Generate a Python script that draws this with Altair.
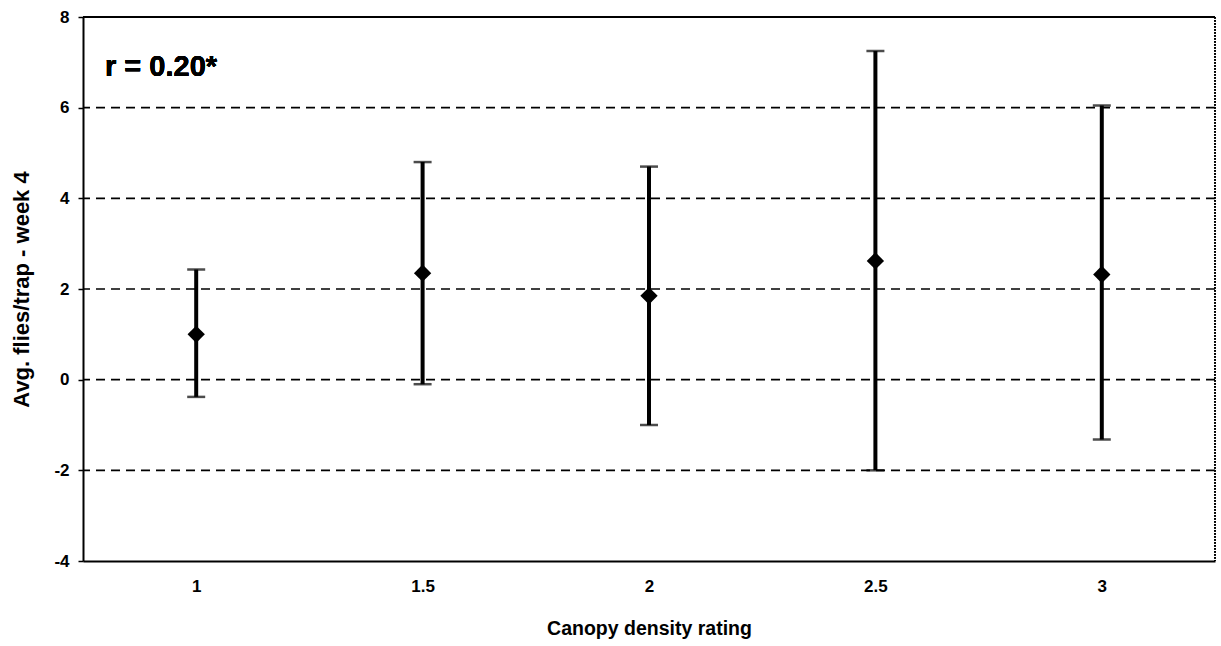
import altair as alt
import pandas as pd

# Canopy density rating vs. average flies per trap (week 4), mean with error bars
ratings = ["1", "1.5", "2", "2.5", "3"]
means = [1.0, 2.35, 1.85, 2.62, 2.32]
upper = [2.43, 4.8, 4.7, 7.25, 6.05]
lower = [-0.38, -0.1, -1.0, -2.0, -1.32]

grid_values = [-2, 0, 2, 4, 6]

df = pd.DataFrame({"rating": ratings, "mean": means, "upper": upper, "lower": lower})
grid_df = pd.DataFrame({"y": grid_values})

W, H = 1132, 544
FONT = "Liberation Sans"

x_enc = alt.X(
    "rating:O",
    sort=ratings,
    scale=alt.Scale(type="point", padding=0.5),
    axis=alt.Axis(
        title="Canopy density rating",
        titleFontSize=19.5,
        labelAngle=0,
        ticks=False,
        labelPadding=17,
        titlePadding=25,
        domainColor="black",
        domainWidth=2,
        grid=False,
    ),
)
y_scale = alt.Scale(domain=[-4, 8], nice=False, zero=False)
y_axis = alt.Axis(
    title="Avg. flies/trap - week 4",
    titleFontSize=22,
    values=[-4, -2, 0, 2, 4, 6, 8],
    labelExpr="toString(datum.value)",
    tickSize=5,
    tickColor="black",
    tickWidth=1.5,
    labelPadding=9,
    titlePadding=20,
    domainColor="black",
    domainWidth=2,
    grid=False,
)

grid = alt.Chart(grid_df).mark_rule(
    color="black", strokeWidth=1.6, strokeDash=[9, 6]
).encode(y=alt.Y("y:Q", scale=y_scale, axis=y_axis))

stems = alt.Chart(df).mark_rule(color="black", strokeWidth=4).encode(
    x=x_enc,
    y=alt.Y("lower:Q", scale=y_scale),
    y2="upper:Q",
)

caps_top = alt.Chart(df).mark_tick(
    color="black", thickness=2.5, size=18, orient="horizontal"
).encode(x=x_enc, y=alt.Y("upper:Q", scale=y_scale))

caps_bottom = alt.Chart(df).mark_tick(
    color="black", thickness=2.5, size=18, orient="horizontal"
).encode(x=x_enc, y=alt.Y("lower:Q", scale=y_scale))

points = alt.Chart(df).mark_point(
    shape="diamond", filled=True, color="black", size=300, opacity=1
).encode(x=x_enc, y=alt.Y("mean:Q", scale=y_scale))

# plot-area frame: solid top edge, dotted right edge
top_edge = alt.Chart(df).mark_rule(color="black", strokeWidth=2).encode(
    x=alt.value(0), x2=alt.value(W), y=alt.value(0)
)
right_edge = alt.Chart(df).mark_rule(
    color="black", strokeWidth=1.5, strokeDash=[1.5, 1.5]
).encode(x=alt.value(W), y=alt.value(0), y2=alt.value(H))

label = alt.Chart(df).mark_text(
    text="r = 0.20*", font=FONT, fontSize=29, fontWeight="bold",
    align="left", baseline="middle", color="black",
).encode(x=alt.value(22), y=alt.value(50))

chart = (
    alt.layer(grid, stems, caps_top, caps_bottom, points, top_edge, right_edge, label)
    .properties(
        width=W,
        height=H,
        autosize=alt.AutoSizeParams(type="none"),
        padding={"left": 83, "top": 17, "right": 6, "bottom": 85},
        background="white",
    )
    .configure_view(stroke=None)
    .configure_axis(
        labelFont=FONT,
        labelFontSize=17,
        labelFontWeight="bold",
        labelColor="black",
        titleFont=FONT,
        titleFontWeight="bold",
        titleColor="black",
    )
)

chart.save("out.html", embed_options={"renderer": "svg", "actions": False})
